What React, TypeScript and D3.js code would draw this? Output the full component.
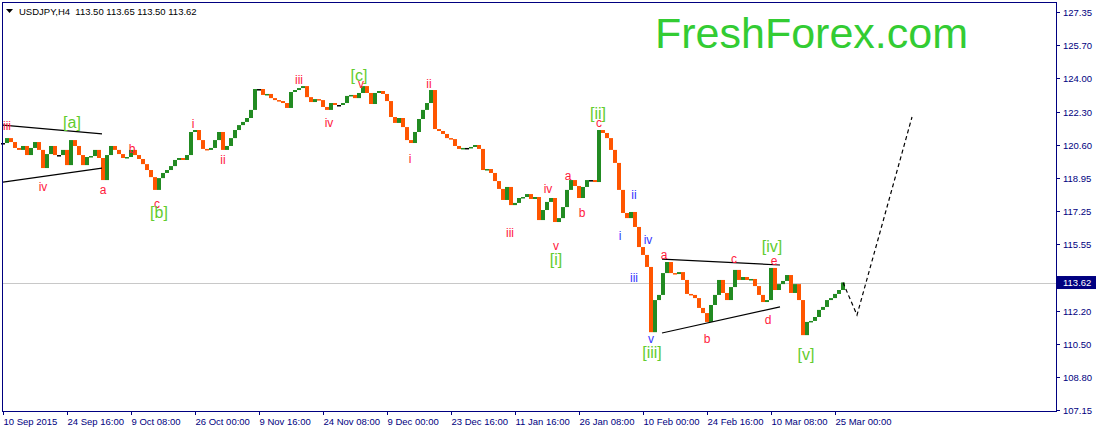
import React, { useEffect, useRef } from "react";
import * as d3 from "d3";

// USDJPY H4 closes, one value every 4 bars
const closes = [
  120.70, 120.95, 120.75, 120.45, 120.35, 120.55, 120.09, 120.45, 120.75, 120.35,
  119.43, 120.14, 120.55, 120.09, 120.09, 120.35, 119.58, 120.85, 120.55, 120.09,
  119.58, 119.99, 120.04, 120.35, 119.94, 118.82, 120.09, 120.55, 120.35, 120.14,
  119.94, 119.99, 120.35, 120.09, 119.89, 119.63, 119.33, 118.97, 118.32, 118.92,
  119.18, 119.33, 119.53, 119.84, 119.94, 119.84, 120.09, 121.26, 121.36, 120.85,
  120.40, 120.35, 120.45, 120.85, 121.26, 120.35, 120.55, 120.95, 121.36, 121.61,
  121.77, 121.97, 122.38, 123.44, 123.44, 123.14, 123.19, 122.98, 122.88, 122.83,
  122.73, 122.48, 123.29, 123.39, 123.49, 123.59, 123.03, 122.78, 122.93, 122.88,
  122.53, 122.38, 122.73, 122.63, 122.63, 122.73, 123.09, 123.14, 122.98, 123.24,
  123.59, 123.24, 122.68, 123.24, 123.34, 123.19, 122.83, 122.02, 121.72, 121.97,
  121.51, 120.85, 120.70, 121.26, 121.92, 122.38, 122.73, 123.39, 121.41, 121.31,
  121.16, 120.95, 120.90, 120.55, 120.40, 120.45, 120.45, 120.50, 120.60, 120.40,
  119.33, 119.38, 119.18, 118.77, 118.37, 117.81, 118.47, 117.55, 117.66, 117.91,
  117.96, 118.11, 117.86, 117.96, 116.79, 117.30, 117.71, 117.91, 116.69, 116.89,
  117.45, 118.32, 118.82, 118.52, 117.91, 118.47, 118.82, 118.82, 118.72, 121.36,
  121.21, 120.95, 120.35, 119.69, 118.32, 117.15, 116.89, 117.20, 116.44, 115.42,
  115.02, 114.41, 111.10, 112.73, 112.99, 114.10, 114.66, 114.10, 114.05, 114.15,
  113.75, 113.04, 112.99, 112.83, 112.33, 112.07, 111.62, 112.48, 112.99, 113.75,
  113.09, 112.73, 113.39, 114.26, 113.75, 113.90, 113.75, 113.80, 113.44, 112.99,
  112.63, 112.73, 114.36, 113.24, 113.54, 113.70, 114.00, 113.09, 113.54, 112.73,
  110.95, 111.62, 111.67, 111.87, 112.23, 112.38, 112.73, 112.83, 113.04, 113.24,
  113.62,
];

const timeLabels = [
  "10 Sep 2015", "24 Sep 16:00", "9 Oct 08:00", "26 Oct 00:00", "9 Nov 16:00",
  "24 Nov 08:00", "9 Dec 00:00", "23 Dec 16:00", "11 Jan 16:00", "26 Jan 08:00",
  "10 Feb 00:00", "24 Feb 16:00", "10 Mar 08:00", "25 Mar 00:00",
];
const timeLabelStep = 16;

const priceTicks = [
  127.35, 125.7, 124.0, 122.3, 120.6, 118.95, 117.25, 115.55, 113.85, 112.2,
  110.5, 108.8, 107.15,
];

const lastPrice = 113.62;
const headerText = "USDJPY,H4  113.50 113.65 113.50 113.62";

// dashed forecast
const forecastIdx = [210, 213.5, 227.25];
const forecastPrice = [113.62, 111.97, 122.02];

// trend lines: [idx0, price0, idx1, price1]
const trendLines: [number, number, number, number][] = [
  [0, 121.61, 24.75, 121.16],
  [0, 118.72, 24.75, 119.43],
  [164.75, 114.81, 194.25, 114.51],
  [164.75, 111.06, 194.25, 112.38],
];

// wave marks: [text, idx, price, kind]
const waveMarks: [string, number, number, string][] = [
  ["iii", 1, 121.56, "red"],
  ["[a]", 17.25, 121.77, "green"],
  ["iv", 10, 118.47, "red"],
  ["a", 25, 118.32, "red"],
  ["b", 32.25, 120.4, "red"],
  ["c", 38.5, 117.6, "red"],
  ["[b]", 39, 117.2, "green"],
  ["i", 47.5, 121.66, "red"],
  ["ii", 55, 119.84, "red"],
  ["iii", 74, 123.9, "red"],
  ["iv", 81.5, 121.72, "red"],
  ["[c]", 89, 124.15, "green"],
  ["v", 89.5, 123.69, "red"],
  ["ii", 106.5, 123.69, "red"],
  ["i", 101.75, 119.89, "red"],
  ["iii", 126.75, 116.13, "red"],
  ["iv", 136.25, 118.37, "red"],
  ["v", 138.25, 115.47, "red"],
  ["[i]", 138.25, 114.81, "green"],
  ["a", 141.25, 119.03, "red"],
  ["b", 144.75, 117.15, "red"],
  ["[ii]", 148.75, 122.22, "green"],
  ["c", 149, 121.72, "red"],
  ["ii", 157.75, 118.06, "blue"],
  ["i", 154.25, 115.98, "blue"],
  ["iv", 161.25, 115.78, "blue"],
  ["iii", 157.75, 113.85, "blue"],
  ["v", 162, 110.75, "blue"],
  ["[iii]", 162.25, 110.09, "green"],
  ["a", 165.25, 115.02, "red"],
  ["b", 176, 110.75, "red"],
  ["c", 182.75, 114.81, "red"],
  ["d", 191.25, 111.72, "red"],
  ["e", 192.75, 114.71, "red"],
  ["[iv]", 192.25, 115.47, "green"],
  ["[v]", 200.75, 109.99, "green"],
];

const markColors: Record<string, string> = {
  red: "#ff1a3c",
  blue: "#3535ff",
  green: "#62cc2e",
};

const W = 1096;
const H = 432;
const axisColor = "#000080";
const font = "Tahoma, 'Liberation Sans', Arial, sans-serif";

const App: React.FC = () => {
  const svgRef = useRef<SVGSVGElement>(null);

  useEffect(() => {
    if (!svgRef.current) return;
    d3.select(svgRef.current).selectAll("*").remove();

    const svg = d3.select(svgRef.current);
    const left = 2, right = 1056, top = 2, bottom = 411;

    const x = d3.scaleLinear().domain([0, 210]).range([3, 843]);
    const y = d3.scaleLinear().domain([107.15, 127.35]).range([410, 12]);
    const step = x(1) - x(0);

    svg.append("rect").attr("width", W).attr("height", H).attr("fill", "#fff");

    // watermark
    svg.append("text")
      .attr("x", 655).attr("y", 48)
      .attr("font-family", "'Liberation Sans', Arial, sans-serif")
      .attr("font-size", 43)
      .attr("fill", "#33cc33")
      .text("FreshForex.com");

    // last price line
    svg.append("line")
      .attr("x1", left).attr("x2", right)
      .attr("y1", Math.round(y(lastPrice)) + 0.5).attr("y2", Math.round(y(lastPrice)) + 0.5)
      .attr("stroke", "#c8c8c8");

    // bars: each from previous close to this close
    const bars = svg.append("g");
    closes.forEach((c, i) => {
      const prev = i > 0 ? closes[i - 1] : c;
      const hi = Math.max(prev, c), lo = Math.min(prev, c);
      const col = c > prev ? "#228b22" : c < prev ? "#ff5500" : "#000";
      bars.append("rect")
        .attr("x", x(i) - step / 2)
        .attr("width", step)
        .attr("y", y(hi))
        .attr("height", Math.max(1.5, y(lo) - y(hi)))
        .attr("fill", col);
    });

    // trend lines
    svg.append("g").selectAll("line")
      .data(trendLines).enter().append("line")
      .attr("x1", d => x(d[0])).attr("y1", d => y(d[1]))
      .attr("x2", d => x(d[2])).attr("y2", d => y(d[3]))
      .attr("stroke", "#000").attr("stroke-width", 1.2);

    // forecast
    const fc = forecastIdx.map((v, i) => [x(v), y(forecastPrice[i])] as [number, number]);
    svg.append("path")
      .attr("d", d3.line()(fc))
      .attr("fill", "none")
      .attr("stroke", "#000")
      .attr("stroke-width", 1.2)
      .attr("stroke-dasharray", "4,3");

    // wave marks
    svg.append("g").selectAll("text")
      .data(waveMarks).enter().append("text")
      .attr("x", d => x(d[1]))
      .attr("y", d => y(d[2]))
      .attr("dy", "0.35em")
      .attr("text-anchor", "middle")
      .attr("font-family", "'Liberation Sans', Arial, sans-serif")
      .attr("font-size", d => (d[3] === "green" ? 16 : 12))
      .attr("fill", d => markColors[d[3]])
      .text(d => d[0]);

    // frame
    svg.append("rect")
      .attr("x", left + 0.5).attr("y", top + 0.5)
      .attr("width", right - left).attr("height", bottom - top)
      .attr("fill", "none").attr("stroke", axisColor);

    // price axis
    const pa = svg.append("g");
    priceTicks.forEach(p => {
      const py = Math.round(y(p)) + 0.5;
      pa.append("line").attr("x1", right).attr("x2", right + 4)
        .attr("y1", py).attr("y2", py).attr("stroke", axisColor);
      pa.append("text").attr("x", right + 7).attr("y", py).attr("dy", "0.35em")
        .attr("font-family", font).attr("font-size", 9.5).attr("fill", axisColor)
        .text(d3.format(".2f")(p));
    });

    // last price box
    const ly = y(lastPrice);
    svg.append("rect").attr("x", right + 1).attr("y", ly - 6.5)
      .attr("width", W - right - 1).attr("height", 13).attr("fill", axisColor);
    svg.append("text").attr("x", right + 7).attr("y", ly).attr("dy", "0.35em")
      .attr("font-family", font).attr("font-size", 9.5).attr("fill", "#fff")
      .text(d3.format(".2f")(lastPrice));

    // time axis
    const ta = svg.append("g");
    timeLabels.forEach((t, k) => {
      const tx = Math.round(x(k * timeLabelStep)) + 0.5;
      ta.append("line").attr("x1", tx).attr("x2", tx)
        .attr("y1", bottom).attr("y2", bottom + 4).attr("stroke", axisColor);
      ta.append("text").attr("x", tx).attr("y", 425)
        .attr("font-family", font).attr("font-size", 9.5).attr("fill", axisColor)
        .text(t);
    });

    // header
    svg.append("path").attr("d", "M6,9 L13,9 L9.5,13 Z").attr("fill", "#000");
    svg.append("text").attr("x", 19).attr("y", 15)
      .attr("font-family", font).attr("font-size", 9.5).attr("fill", "#000")
      .attr("xml:space", "preserve")
      .style("white-space", "pre")
      .text(headerText);
  }, []);

  return (
    <svg
      ref={svgRef}
      width={W}
      height={H}
      style={{ position: "fixed", left: 0, top: 0, display: "block" }}
    />
  );
};

export default App;
